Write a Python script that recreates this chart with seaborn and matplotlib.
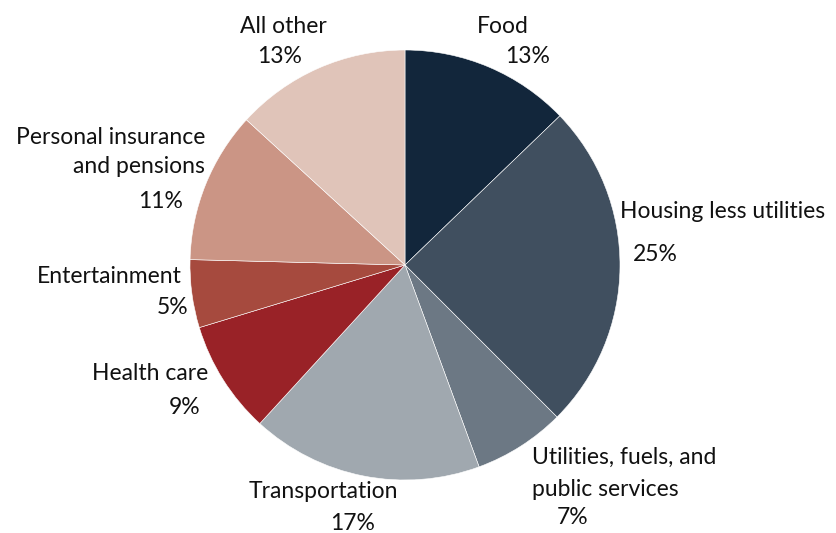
import matplotlib
matplotlib.use("Agg")
import matplotlib.pyplot as plt
import seaborn as sns

sns.set_theme(style="white")
plt.rcParams['font.family'] = ['Lato', 'DejaVu Sans']

categories = ["Food", "Housing less utilities", "Utilities, fuels, and public services",
              "Transportation", "Health care", "Entertainment",
              "Personal insurance and pensions", "All other"]
shares = [12.8, 24.7, 6.9, 17.4, 8.5, 5.1, 11.4, 13.2]
pct_labels = ["13%", "25%", "7%", "17%", "9%", "5%", "11%", "13%"]
colors = ["#12263b", "#404f5f", "#6c7884", "#a0a8af",
          "#992227", "#a64a3e", "#cb9585", "#e0c4b9"]

W, H = 837, 533
CX, CY, R = 405, 265, 215

fig = plt.figure(figsize=(W / 100, H / 100), dpi=100)
ax = fig.add_axes([0, 0, 1, 1])

ax.pie(shares, colors=colors, startangle=90, counterclock=False, radius=1.0,
       center=(0, 0), wedgeprops=dict(edgecolor="white", linewidth=0.4),
       frame=True)
ax.set_xlim((0 - CX) / R, (W - CX) / R)
ax.set_ylim((CY - H) / R, (CY - 0) / R)
ax.set_aspect("auto")
ax.axis("off")


def P(x, y):
    return (x - CX) / R, (CY - y) / R


FS = 16.5
kw = dict(fontsize=FS, color="#111111", va="center", fontweight="normal")

# label lines: (text, anchor_x_px, y_center_px, alignment)
lines = [
    ("All other", 283, 27, "center"), (pct_labels[7], 280, 57, "center"),
    ("Food", 477, 27, "left"), (pct_labels[0], 505, 57, "left"),
    ("Housing less utilities", 620, 212, "left"), (pct_labels[1], 633, 255, "left"),
    ("Utilities, fuels, and", 532, 457, "left"), ("public services", 532, 489, "left"),
    (pct_labels[2], 557, 517, "left"),
    ("Transportation", 323, 492, "center"), (pct_labels[3], 353, 523, "center"),
    ("Health care", 208, 373, "right"), (pct_labels[4], 200, 407, "right"),
    ("Entertainment", 182, 277, "right"), (pct_labels[5], 188, 308, "right"),
    ("Personal insurance", 205, 138, "right"), ("and pensions", 205, 167, "right"),
    (pct_labels[6], 183, 202, "right"),
]
for txt, x, y, ha in lines:
    ax.text(*P(x, y), txt, ha=ha, **kw)

fig.savefig("out.png", dpi=100)
